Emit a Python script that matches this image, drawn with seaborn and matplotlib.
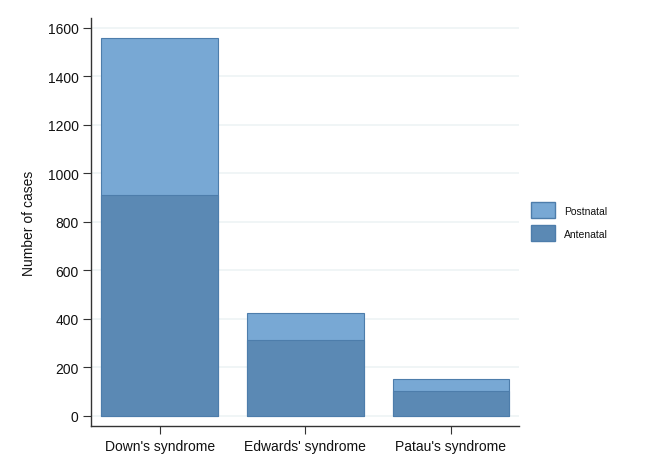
import matplotlib
matplotlib.use("Agg")
import matplotlib.pyplot as plt
import seaborn as sns
import pandas as pd
from matplotlib.patches import Patch

categories = ["Down's syndrome", "Edwards' syndrome", "Patau's syndrome"]
antenatal = [912, 312, 102]
postnatal = [645, 111, 48]
yticks = [0, 200, 400, 600, 800, 1000, 1200, 1400, 1600]

sns.set_style("white")
plt.rcParams['font.family'] = ['Liberation Sans', 'DejaVu Sans']
plt.rcParams['text.color'] = '#111111'
plt.rcParams['axes.labelcolor'] = '#111111'
plt.rcParams['xtick.color'] = '#111111'
plt.rcParams['ytick.color'] = '#111111'

totals = [a + p for a, p in zip(antenatal, postnatal)]
df = pd.DataFrame({"category": categories, "total": totals, "antenatal": antenatal})

c_post = "#78a8d4"
c_ante = "#5b89b4"
edge = "#4d7dab"

fig = plt.figure(figsize=(6.58, 4.64), dpi=100)
ax = fig.add_axes([0.1383, 0.0797, 0.6505, 0.8793])

sns.barplot(data=df, x="category", y="total", color=c_post, saturation=1,
            width=0.8, edgecolor=edge, linewidth=0.8, ax=ax, zorder=3)
sns.barplot(data=df, x="category", y="antenatal", color=c_ante, saturation=1,
            width=0.8, edgecolor=edge, linewidth=0.8, ax=ax, zorder=3)

ax.set_xlim(-0.472, 2.468)
ax.set_ylim(-42, 1641)
ax.set_yticks(yticks)
ax.set_yticklabels([str(t) for t in yticks], fontsize=10)
ax.tick_params(axis='x', labelsize=10, length=6, width=0.8, color="#333333", pad=3, bottom=True)
ax.tick_params(axis='y', length=6, width=0.8, color="#333333", pad=3, left=True)
ax.set_xlabel("")
ax.set_ylabel("Number of cases", fontsize=10, labelpad=8)

for y in yticks:
    ax.axhline(y, color="#eef3f5", linewidth=1.2, zorder=0)

for s in ["top", "right"]:
    ax.spines[s].set_visible(False)
for s in ["left", "bottom"]:
    ax.spines[s].set_color("#333333")
    ax.spines[s].set_linewidth(1.0)

handles = [Patch(facecolor=c_post, edgecolor=edge, label="Postnatal"),
           Patch(facecolor=c_ante, edgecolor=edge, label="Antenatal")]
fig.legend(handles=handles, loc="upper left", bbox_to_anchor=(0.793, 0.582),
           frameon=False, fontsize=7.5, handlelength=2.3, handleheight=1.95,
           handletextpad=0.87, labelspacing=0.7)

fig.savefig("out.png", dpi=100)
